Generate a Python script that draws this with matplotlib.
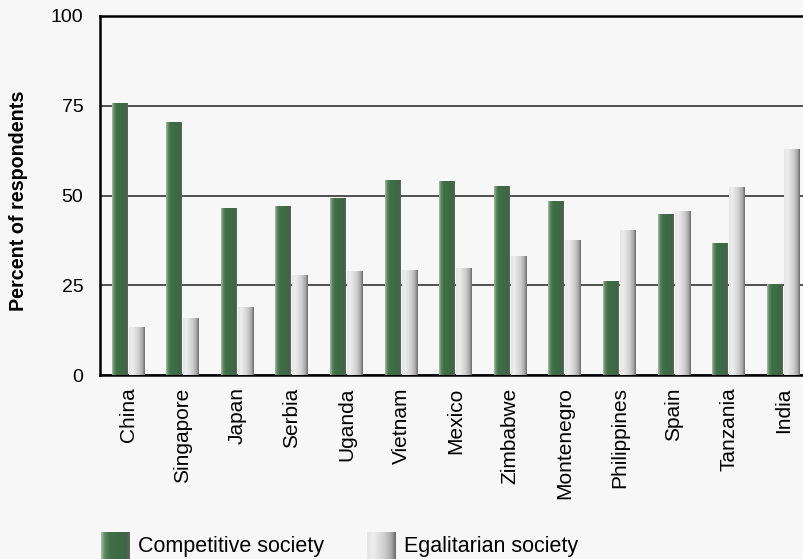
import numpy as np
import matplotlib
matplotlib.use("Agg")
import matplotlib.pyplot as plt
from matplotlib.colors import LinearSegmentedColormap

plt.rcParams["font.family"] = ["Liberation Sans", "DejaVu Sans"]

countries = ["China", "Singapore", "Japan", "Serbia", "Uganda", "Vietnam", "Mexico",
             "Zimbabwe", "Montenegro", "Philippines", "Spain", "Tanzania", "India"]
competitive = [75.7, 70.4, 46.3, 47.0, 49.3, 54.3, 54.0, 52.4, 48.3, 26.0, 44.8, 36.7, 25.3]
egalitarian = [13.3, 15.6, 18.9, 27.7, 28.7, 29.0, 29.8, 33.1, 37.6, 40.3, 45.6, 52.2, 62.9]
labels = ["Competitive society", "Egalitarian society"]

bg = "#f7f7f7"
green_cm = LinearSegmentedColormap.from_list(
    "g", [(0, "#a8c2a4"), (0.12, "#5f8a63"), (0.3, "#3f6e47"), (0.75, "#3d6a45"), (0.9, "#4b5d4c"), (1, "#606860")])
gray_cm = LinearSegmentedColormap.from_list(
    "w", [(0, "#e4e4e4"), (0.2, "#eeeeee"), (0.6, "#cfcfcf"), (0.85, "#a8a8a8"), (1, "#6a6a6a")])
grad = np.linspace(0, 1, 64).reshape(1, -1)

fig = plt.figure(figsize=(8.04, 5.59), dpi=100, facecolor=bg)
ax = fig.add_axes([100 / 804, 1 - 375 / 559, 1 - 100 / 804, (375 - 16) / 559])
ax.set_facecolor(bg)

x = np.arange(len(countries))
w = 0.29
b1 = ax.bar(x - w / 2 - 0.01, competitive, w, color="none", zorder=3)
b2 = ax.bar(x + w / 2 + 0.01, egalitarian, w, color="none", zorder=3)
for bars, cm in [(b1, green_cm), (b2, gray_cm)]:
    for p in bars:
        x0, h = p.get_x(), p.get_height()
        ax.imshow(grad, cmap=cm, aspect="auto", interpolation="bilinear",
                  extent=(x0, x0 + p.get_width(), 0, h), zorder=3)

ax.set_xlim(-0.513, 12.38)
ax.set_ylim(0, 100)
ax.set_yticks([0, 25, 50, 75, 100])
ax.yaxis.grid(True, color="#333333", linewidth=1.2, zorder=1)
ax.set_axisbelow(True)
ax.set_xticks(x)
ax.set_xticklabels(countries, rotation=90)
ax.tick_params(axis="y", length=0, labelsize=14, pad=12)
ax.tick_params(axis="x", length=0, labelsize=15, pad=9)
for s in ["left", "bottom", "top"]:
    ax.spines[s].set_linewidth(1.8)
ax.spines["right"].set_visible(False)
ax.set_ylabel("Percent of respondents", fontsize=14.2, fontweight="bold", labelpad=16,
              y=0.5 - 5 / 359)

# legend swatches
for i, (lab, cm) in enumerate(zip(labels, [green_cm, gray_cm])):
    lx = [101, 367][i]
    la = fig.add_axes([lx / 804, 0, 29 / 804, 27 / 559])
    la.imshow(grad, cmap=cm, aspect="auto", interpolation="bilinear")
    la.axis("off")
    fig.text((lx + 37) / 804, 1 - 552 / 559, lab, fontsize=15.5, va="baseline")

fig.savefig("out.png", dpi=100, facecolor=bg)
